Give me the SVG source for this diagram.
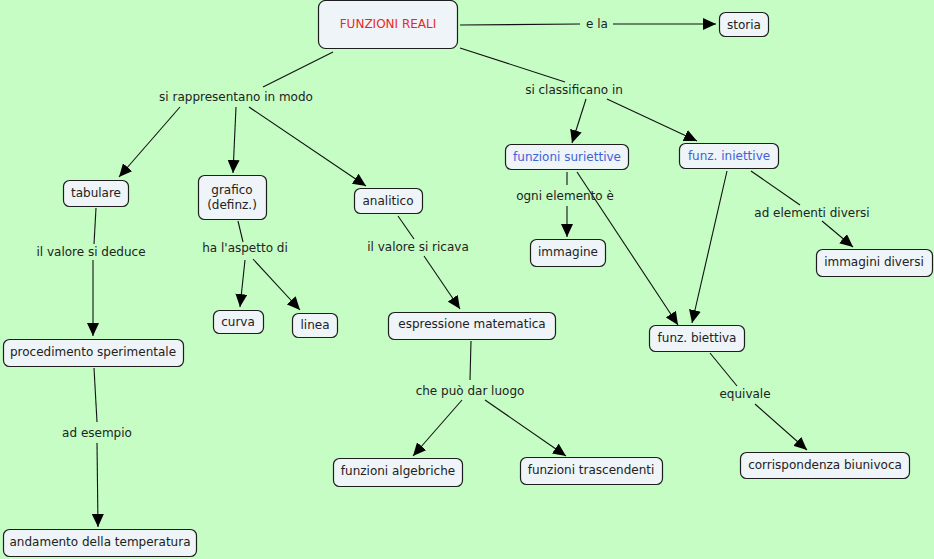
<svg xmlns="http://www.w3.org/2000/svg" width="934" height="559" viewBox="0 0 934 559">
<defs>
<marker id="arr" markerUnits="userSpaceOnUse" markerWidth="14" markerHeight="12" refX="13" refY="6" orient="auto">
<path d="M0,0 L13,6 L0,12 Z" fill="#000"/>
</marker>
<style>
.n rect{fill:#eef4f7;stroke:#1e1e1e;stroke-width:1.2}
.n text,.l{font-family:"DejaVu Sans",Verdana,sans-serif;font-size:12px;fill:#222;text-anchor:middle;dominant-baseline:central}
.c line{stroke:#111;stroke-width:1.1}
.c line.a{marker-end:url(#arr)}
.blue{fill:#3d63d8 !important}
.red{fill:#e82828 !important}
</style>
</defs>
<rect width="934" height="559" fill="#c5fdc5"/>
<g class="c">
<line x1="460" y1="25" x2="580" y2="24"/>
<line class="a" x1="613" y1="24" x2="716" y2="24"/>
<line x1="333" y1="52" x2="263" y2="87"/>
<line x1="460" y1="48" x2="565" y2="82"/>
<line class="a" x1="586" y1="99" x2="572" y2="143"/>
<line class="a" x1="607" y1="99" x2="697" y2="141"/>
<line class="a" x1="180" y1="107" x2="119" y2="177"/>
<line class="a" x1="236" y1="107" x2="233" y2="173"/>
<line class="a" x1="249" y1="107" x2="366" y2="186"/>
<line x1="96" y1="208" x2="94" y2="244"/>
<line class="a" x1="93" y1="260" x2="93" y2="336"/>
<line x1="238" y1="221" x2="243" y2="242"/>
<line class="a" x1="245" y1="260" x2="240" y2="307"/>
<line class="a" x1="253" y1="259" x2="300" y2="310"/>
<line x1="398" y1="216" x2="414" y2="239"/>
<line class="a" x1="424" y1="256" x2="460" y2="309"/>
<line x1="94" y1="368" x2="97" y2="422"/>
<line class="a" x1="97" y1="443" x2="98" y2="527"/>
<line x1="471" y1="341" x2="470" y2="380"/>
<line class="a" x1="462" y1="400" x2="413" y2="456"/>
<line class="a" x1="485" y1="400" x2="566" y2="456"/>
<line x1="567" y1="172" x2="567" y2="185"/>
<line class="a" x1="567" y1="206" x2="567" y2="237"/>
<line class="a" x1="577" y1="172" x2="678" y2="325"/>
<line class="a" x1="727" y1="171" x2="692" y2="323"/>
<line x1="751" y1="171" x2="800" y2="205"/>
<line class="a" x1="822" y1="221" x2="853" y2="247"/>
<line x1="710" y1="353" x2="737" y2="386"/>
<line class="a" x1="755" y1="404" x2="807" y2="450"/>
</g>
<g class="labels">
<text class="l" x="597" y="24">e la</text>
<text class="l" x="236" y="97">si rappresentano in modo</text>
<text class="l" x="574" y="90">si classificano in</text>
<text class="l" x="91" y="252">il valore si deduce</text>
<text class="l" x="245" y="248">ha l'aspetto di</text>
<text class="l" x="418" y="247">il valore si ricava</text>
<text class="l" x="470" y="391">che può dar luogo</text>
<text class="l" x="97" y="433">ad esempio</text>
<text class="l" x="565" y="196">ogni elemento è</text>
<text class="l" x="812" y="213">ad elementi diversi</text>
<text class="l" x="745" y="394">equivale</text>
</g>
<g id="funzioni-reali" class="n"><rect x="318.5" y="0.5" width="139" height="48" rx="7"/><text class="red" x="388" y="24">FUNZIONI REALI</text></g>
<g id="storia" class="n"><rect x="719.5" y="12.5" width="49" height="24" rx="6"/><text x="744" y="25">storia</text></g>
<g id="tabulare" class="n"><rect x="63.5" y="180.5" width="65" height="26" rx="6"/><text x="96" y="193">tabulare</text></g>
<g id="grafico" class="n"><rect x="198.5" y="175.5" width="68" height="44" rx="6"/><text x="232" y="190">grafico</text><text x="232" y="205">(definz.)</text></g>
<g id="analitico" class="n"><rect x="354.5" y="188.5" width="68" height="25" rx="6"/><text x="388" y="201">analitico</text></g>
<g id="curva" class="n"><rect x="213.5" y="310.5" width="50" height="23" rx="6"/><text x="238" y="322">curva</text></g>
<g id="linea" class="n"><rect x="292.5" y="313.5" width="45" height="24" rx="6"/><text x="315" y="325">linea</text></g>
<g id="espressione" class="n"><rect x="388.5" y="312.5" width="167" height="27" rx="6"/><text x="472" y="324">espressione matematica</text></g>
<g id="procedimento" class="n"><rect x="3.5" y="339.5" width="180" height="27" rx="6"/><text x="93" y="352">procedimento sperimentale</text></g>
<g id="andamento" class="n"><rect x="3.5" y="529.5" width="193" height="27" rx="6"/><text x="100" y="542">andamento della temperatura</text></g>
<g id="algebriche" class="n"><rect x="333.5" y="458.5" width="129" height="28" rx="6"/><text x="398" y="471">funzioni algebriche</text></g>
<g id="trascendenti" class="n"><rect x="520.5" y="457.5" width="142" height="27" rx="6"/><text x="591" y="470">funzioni trascendenti</text></g>
<g id="suriettive" class="n"><rect x="505.5" y="144.5" width="123" height="25" rx="6"/><text class="blue" x="567" y="157">funzioni suriettive</text></g>
<g id="iniettive" class="n"><rect x="679.5" y="143.5" width="99" height="25" rx="6"/><text class="blue" x="729" y="156">funz. iniettive</text></g>
<g id="immagine" class="n"><rect x="530.5" y="239.5" width="75" height="27" rx="6"/><text x="568" y="252">immagine</text></g>
<g id="immagini-diversi" class="n"><rect x="816.5" y="249.5" width="116" height="27" rx="6"/><text x="874" y="262">immagini diversi</text></g>
<g id="biettiva" class="n"><rect x="649.5" y="325.5" width="95" height="26" rx="6"/><text x="697" y="338">funz. biettiva</text></g>
<g id="corrispondenza" class="n"><rect x="740.5" y="452.5" width="169" height="26" rx="6"/><text x="825" y="465">corrispondenza biunivoca</text></g>
</svg>
